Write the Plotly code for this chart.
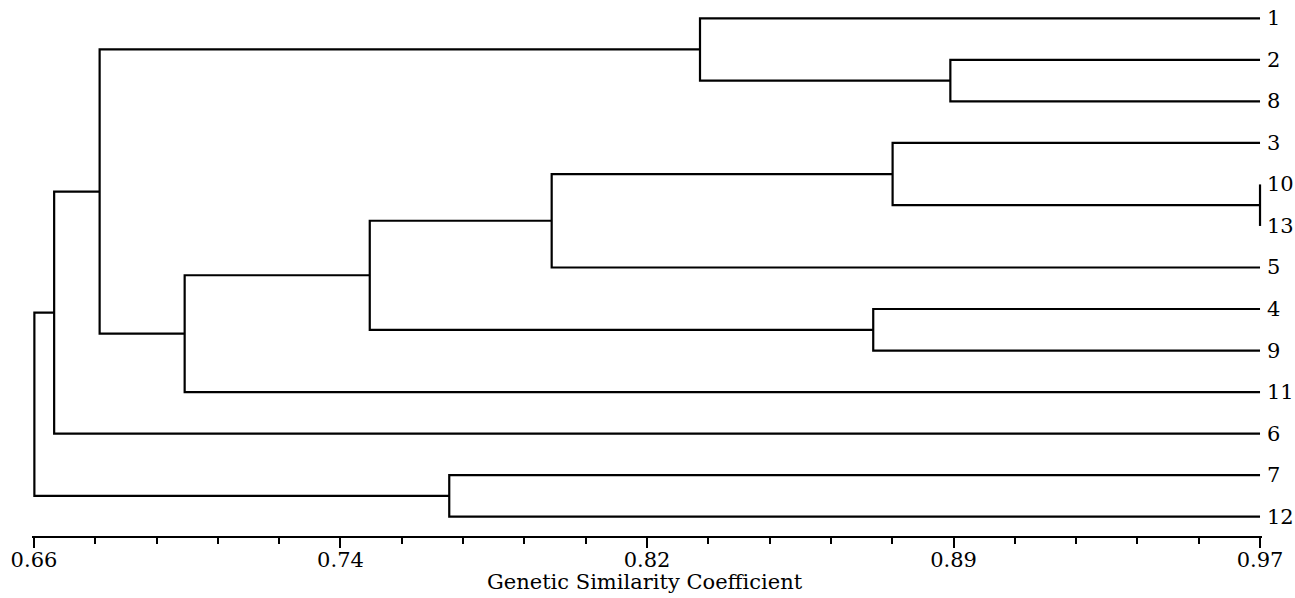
import plotly.graph_objects as go

# ---- data ----
leaf_labels = ["1", "2", "8", "3", "10", "13", "5", "4", "9", "11", "6", "7", "12"]
# merges: cluster ids 0..12 are leaves (display order), new clusters get 13, 14, ...
merge_a = [4, 1, 3, 7, 0, 15, 11, 18, 20, 17, 22, 23]
merge_b = [5, 2, 13, 8, 14, 6, 12, 16, 9, 21, 10, 19]
merge_sim = [0.970, 0.8917, 0.8771, 0.8722, 0.8284, 0.7909, 0.7650, 0.7449,
             0.6981, 0.6766, 0.6651, 0.6601]
tick_values = [0.66, 0.7375, 0.815, 0.8925, 0.97]
tick_labels = ["0.66", "0.74", "0.82", "0.89", "0.97"]
minor_step = 0.0155
axis_title = "Genetic Similarity Coefficient"
leaf_end = 0.97

# ---- build dendrogram segments ----
n = len(leaf_labels)
node_x = {i: leaf_end for i in range(n)}
node_y = {i: float(i) for i in range(n)}
xs, ys = [], []
for k, (a, b, s) in enumerate(zip(merge_a, merge_b, merge_sim)):
    cid = n + k
    ya, yb = node_y[a], node_y[b]
    xs += [node_x[a], s, s, node_x[b], None]
    ys += [ya, ya, yb, yb, None]
    node_x[cid] = s
    node_y[cid] = (ya + yb) / 2.0

W, H = 1295, 598
ML, MR, MT = 32, 33, 0
plot_bottom = 536
MB = H - plot_bottom
plot_h = H - MT - MB
plot_w = W - ML - MR
first_leaf_px, leaf_gap_px = 18.3, 41.53
y_top = (0 - first_leaf_px) / leaf_gap_px
y_bot = (plot_h - first_leaf_px) / leaf_gap_px

font_family = "DejaVu Serif"
fsize = 21

fig = go.Figure()
fig.add_trace(go.Scatter(x=xs, y=ys, mode="lines",
                         line=dict(color="black", width=2.2),
                         hoverinfo="skip", showlegend=False))

for i, lab in enumerate(leaf_labels):
    fig.add_annotation(x=leaf_end, y=i, text=lab, showarrow=False,
                       xanchor="left", yanchor="middle", xshift=5,
                       font=dict(family=font_family, size=fsize, color="black"))

# axis title placed under the tick labels
title_cx_px, title_cy_px = 644.5, 581.5
fig.add_annotation(xref="paper", yref="paper",
                   x=(title_cx_px - ML) / plot_w,
                   y=-(title_cy_px - plot_bottom) / plot_h,
                   text=axis_title, showarrow=False,
                   xanchor="center", yanchor="middle",
                   font=dict(family=font_family, size=fsize, color="black"))

fig.update_layout(
    width=W, height=H,
    margin=dict(l=ML, r=MR, t=MT, b=MB),
    paper_bgcolor="white", plot_bgcolor="white",
    xaxis=dict(
        range=[0.6595, 0.9705],
        tickmode="array", tickvals=tick_values, ticktext=tick_labels,
        ticks="outside", ticklen=10, tickwidth=2, tickcolor="black",
        ticklabelstandoff=-6,
        showline=True, linecolor="black", linewidth=2,
        showgrid=False, zeroline=False,
        tickfont=dict(family=font_family, size=fsize, color="black"),
        minor=dict(tick0=0.66, dtick=minor_step, ticks="outside",
                   ticklen=6, tickwidth=2, tickcolor="black", showgrid=False),
    ),
    yaxis=dict(range=[y_bot, y_top], visible=False, showgrid=False,
               zeroline=False),
)

fig.write_html(
    "out.html",
    config={"displayModeBar": False},
    post_script="document.body.style.margin='0';document.body.style.overflow='hidden';",
)
